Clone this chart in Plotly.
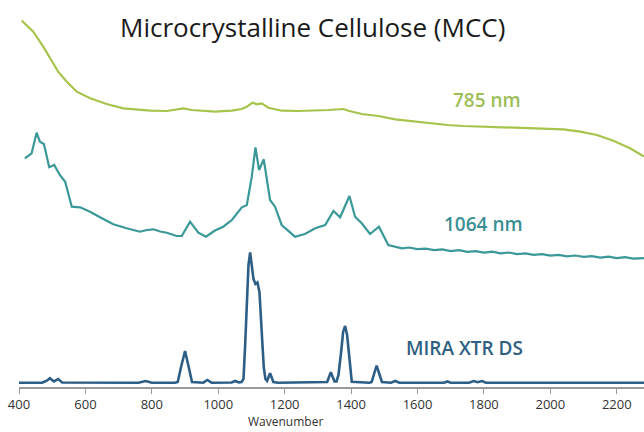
import plotly.graph_objects as go

# ---- data (y in arbitrary offset units) ----
wn_785 = [408, 443, 473, 498, 518, 544, 574, 614, 664, 714, 760, 795, 845, 870, 895, 920, 945, 990,
          1041, 1070, 1086, 1103, 1116, 1131, 1151, 1191, 1241, 1292, 1332, 1377, 1392, 1432, 1482,
          1533, 1593, 1638, 1690, 1738, 1790, 1839, 1890, 1939, 1990, 2039, 2090, 2140, 2190, 2240, 2282]
i_785 = [366.5, 355.3, 340.3, 327.0, 315.3, 305.3, 295.3, 288.7, 283.0, 278.7, 277.3, 276.3, 276.0,
         277.0, 278.7, 277.0, 276.3, 275.3, 276.3, 278.0, 280.3, 284.3, 282.7, 283.7, 279.3, 276.3,
         276.0, 276.3, 277.0, 278.0, 276.3, 273.0, 271.0, 267.7, 265.3, 263.7, 262.0, 261.0, 260.5,
         259.7, 259.8, 259.3, 258.6, 257.7, 255.3, 252.0, 246.3, 238.7, 230.5]

wn_1064 = [418, 438, 453, 463, 475, 491, 506, 523, 539, 559, 584, 614, 644, 684, 724, 764, 785, 805,
           825, 845, 875, 890, 915, 940, 963, 990, 1005, 1015, 1041, 1071, 1086, 1101, 1112, 1123, 1137,
           1156, 1171, 1191, 1231, 1261, 1292, 1322, 1347, 1367, 1395, 1412, 1432, 1457, 1484, 1512,
           1553, 1575, 1600, 1625, 1650, 1675, 1700, 1725, 1750, 1775, 1800, 1825, 1850, 1875, 1900,
           1925, 1950, 1975, 2000, 2025, 2050, 2075, 2100, 2125, 2150, 2175, 2200, 2225, 2250, 2282]
i_1064 = [228.7, 233.7, 254.3, 245.3, 243.0, 219.7, 222.0, 212.0, 205.3, 180.3, 179.7, 175.3, 169.7,
          162.7, 158.7, 155.3, 157.0, 157.7, 155.5, 154.3, 151.0, 151.0, 165.3, 154.3, 150.3, 156.5,
          158.8, 160.3, 167.0, 179.7, 182.0, 210.3, 239.7, 217.0, 227.7, 187.0, 180.3, 162.0, 150.3,
          153.0, 158.7, 162.0, 176.0, 169.7, 191.0, 170.3, 163.7, 153.0, 160.3, 142.0, 138.7, 139.5,
          137.8, 138.4, 136.9, 137.6, 135.8, 136.9, 135.2, 135.9, 134.4, 135.3, 133.6, 134.5, 132.8,
          133.6, 132.1, 132.9, 131.4, 132.2, 130.6, 131.5, 130.1, 130.9, 129.4, 130.3, 128.8, 129.9,
          128.4, 128.9]

wn_mira = [400, 470, 485, 493, 505, 518, 530, 600, 760, 781, 800, 870, 878, 888, 900, 911, 921, 955,
           967, 980, 1040, 1051, 1062, 1070, 1076, 1081, 1086, 1091, 1096, 1106, 1112, 1118, 1124, 1131,
           1137, 1142, 1147, 1156, 1166, 1180, 1320, 1328, 1339, 1350, 1356, 1362, 1370, 1376, 1382,
           1388, 1394, 1402, 1455, 1462, 1470, 1477, 1485, 1493, 1520, 1533, 1545, 1680, 1690, 1700,
           1755, 1769, 1781, 1794, 1806, 2282]
i_mira = [4.3, 4.3, 6.5, 8.7, 5.5, 8.0, 4.5, 4.3, 4.3, 6.0, 4.3, 4.3, 5.0, 20.0, 36.0, 20.0, 5.0, 4.3,
          7.0, 4.3, 4.5, 6.0, 4.5, 5.0, 8.0, 42.0, 75.0, 122.0, 134.7, 108.0, 103.0, 104.5, 95.0, 58.0,
          20.0, 8.0, 6.0, 13.7, 5.0, 4.3, 4.3, 5.0, 14.7, 5.5, 5.5, 12.0, 35.0, 55.0, 61.0, 52.0, 32.0,
          5.3, 4.3, 5.0, 14.0, 21.3, 13.0, 5.0, 4.3, 6.0, 4.3, 4.3, 5.5, 4.3, 4.3, 6.0, 4.8, 6.0, 4.3, 4.3]

tick_vals = [400, 600, 800, 1000, 1200, 1400, 1600, 1800, 2000, 2200]
tick_text = [str(v) for v in tick_vals]

GREEN = "#a6c44c"
TEAL = "#3a9899"
BLUE = "#2c5e86"

fig = go.Figure()
fig.add_trace(go.Scatter(x=wn_785, y=i_785, mode="lines", line=dict(color=GREEN, width=2.2),
                         name="785 nm", hoverinfo="skip"))
fig.add_trace(go.Scatter(x=wn_1064, y=i_1064, mode="lines", line=dict(color=TEAL, width=2.2),
                         name="1064 nm", hoverinfo="skip"))
fig.add_trace(go.Scatter(x=wn_mira, y=i_mira, mode="lines", line=dict(color=BLUE, width=2.6),
                         name="MIRA XTR DS", hoverinfo="skip"))

FONT = "Open Sans"
annos = [
    dict(x=1285, y=360, text="Microcrystalline Cellulose (MCC)",
         font=dict(size=26, color="#1a1a1a", family=FONT)),
    dict(x=1810, y=287.5, text="785 nm", font=dict(size=19, color="#9dbd56", family=FONT, weight=600)),
    dict(x=1798, y=163, text="1064 nm", font=dict(size=19, color="#3b8f93", family=FONT, weight=600)),
    dict(x=1740, y=39, text="MIRA XTR DS", font=dict(size=19, color="#2f5f82", family=FONT, weight=600)),
]
for a in annos:
    a.update(xref="x", yref="y", showarrow=False, xanchor="center", yanchor="middle")
annos.append(dict(x=1201, xref="x", y=-45 / 387, yref="paper", text="Wavenumber", showarrow=False,
                  xanchor="center", yanchor="bottom", yshift=0,
                  font=dict(size=12, color="#333333", family=FONT)))

fig.update_layout(
    width=644, height=432,
    margin=dict(l=19, r=0, t=0, b=45),
    paper_bgcolor="white", plot_bgcolor="white",
    showlegend=False,
    annotations=annos,
    xaxis=dict(range=[400, 2282], tickvals=tick_vals, ticktext=tick_text,
               showgrid=False, zeroline=False, showline=True, linecolor="#9a9a9a", linewidth=1.5,
               ticks="outside", ticklen=5, tickwidth=1.3, tickcolor="#9a9a9a",
               tickfont=dict(size=13, color="#333333", family=FONT)),
    yaxis=dict(range=[0, 387], visible=False, showgrid=False, zeroline=False),
)

fig.write_html("out.html")
